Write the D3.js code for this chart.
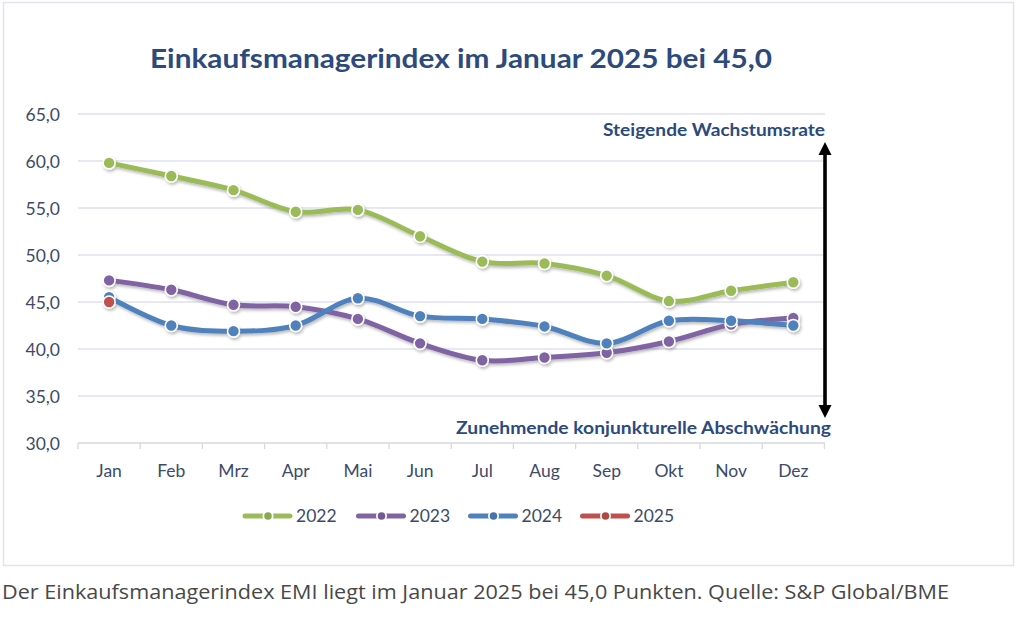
<!DOCTYPE html>
<html>
<head>
<meta charset="utf-8">
<script src="https://cdn.jsdelivr.net/npm/d3@7"></script>
<style>
  html, body { margin: 0; padding: 0; background: #ffffff; }
  svg { display: block; }
</style>
</head>
<body>
<svg id="chart" width="1024" height="621"></svg>
<script>
// ---- data ----
const months = ["Jan","Feb","Mrz","Apr","Mai","Jun","Jul","Aug","Sep","Okt","Nov","Dez"];
const v2022 = [59.8, 58.4, 56.9, 54.6, 54.8, 52.0, 49.3, 49.1, 47.8, 45.1, 46.2, 47.1];
const v2023 = [47.3, 46.3, 44.7, 44.5, 43.2, 40.6, 38.8, 39.1, 39.6, 40.8, 42.6, 43.3];
const v2024 = [45.5, 42.5, 41.9, 42.5, 45.4, 43.5, 43.2, 42.4, 40.6, 43.0, 43.0, 42.5];
const v2025 = [45.0];
const seriesNames = ["2022","2023","2024","2025"];
const seriesColors = ["#9bbb59","#8064a2","#4f81bd","#c0504d"];
const yTicks = [30, 35, 40, 45, 50, 55, 60, 65];
const titleText = "Einkaufsmanagerindex im Januar 2025 bei 45,0";
const upLabel = "Steigende Wachstumsrate";
const downLabel = "Zunehmende konjunkturelle Abschwächung";
const captionText = "Der Einkaufsmanagerindex EMI liegt im Januar 2025 bei 45,0 Punkten. Quelle: S&P Global/BME";

const series = [v2022, v2023, v2024, v2025].map((vals, i) => ({
  name: seriesNames[i], color: seriesColors[i],
  points: vals.map((v, j) => ({ m: months[j], v }))
}));

const svg = d3.select("#chart");
const font = "Lato, 'Open Sans', 'Noto Sans', sans-serif";
const navy = "#2c4a7c";
const tickColor = "#3d4a68";

// shadow filter
const defs = svg.append("defs");
const f = defs.append("filter").attr("id", "shadow").attr("x", "-10%").attr("y", "-10%").attr("width", "120%").attr("height", "130%");
f.append("feDropShadow").attr("dx", 1.2).attr("dy", 2).attr("stdDeviation", 1.4)
  .attr("flood-color", "#000").attr("flood-opacity", 0.28);

// frame
svg.append("rect").attr("x", 3.5).attr("y", 2.5).attr("width", 1010).attr("height", 563)
  .attr("fill", "#ffffff").attr("stroke", "#e1e2ea").attr("stroke-width", 1.5);

// scales
const x = d3.scaleBand().domain(months).range([78, 824.4]).paddingInner(0).paddingOuter(0);
const bw = x.bandwidth();
const cx = m => x(m) + bw / 2;
const y = d3.scaleLinear().domain([30, 65]).range([443, 114]);

// gridlines
svg.append("g").selectAll("line").data(yTicks.filter(t => t > 30)).join("line")
  .attr("x1", 78).attr("x2", 825).attr("y1", d => y(d)).attr("y2", d => y(d))
  .attr("stroke", "#dfe1f1").attr("stroke-width", 1.3);

// x axis baseline + band-boundary ticks
svg.append("line").attr("x1", 78).attr("x2", 825).attr("y1", y(30)).attr("y2", y(30))
  .attr("stroke", "#d9d9dd").attr("stroke-width", 1.3);
svg.append("g").selectAll("line").data(d3.range(months.length + 1)).join("line")
  .attr("x1", i => 78 + i * bw).attr("x2", i => 78 + i * bw)
  .attr("y1", y(30)).attr("y2", y(30) + 6)
  .attr("stroke", "#d9d9dd").attr("stroke-width", 1.3);

// y axis labels
const loc = d3.formatLocale({ decimal: ",", thousands: ".", grouping: [3], currency: ["", " €"] });
const fmt = loc.format(".1f");
const yAxis = d3.axisLeft(y).tickValues(yTicks).tickFormat(fmt).tickSize(0).tickPadding(0);
const gy = svg.append("g").attr("transform", "translate(60,0)").call(yAxis);
gy.select(".domain").remove();
gy.selectAll("text").attr("font-family", font).attr("font-size", 17.5).attr("fill", tickColor).attr("dy", "0.36em");

// x axis labels
const xAxis = d3.axisBottom(x).tickSize(0).tickPadding(0);
const gx = svg.append("g").attr("transform", `translate(0,${y(30)})`).call(xAxis);
gx.select(".domain").remove();
gx.selectAll("text").attr("font-family", font).attr("font-size", 17.5).attr("fill", tickColor)
  .attr("dy", null).attr("y", 34);

// lines
const line = d3.line().x(d => cx(d.m)).y(d => y(d.v)).curve(d3.curveCatmullRom.alpha(0));
const gs = svg.append("g").attr("filter", "url(#shadow)");
series.forEach(s => {
  const g = gs.append("g");
  g.append("path").datum(s.points).attr("d", line).attr("fill", "none")
    .attr("stroke", s.color).attr("stroke-width", 5).attr("stroke-linejoin", "round").attr("stroke-linecap", "round");
  g.selectAll("circle").data(s.points).join("circle")
    .attr("cx", d => cx(d.m)).attr("cy", d => y(d.v)).attr("r", 6)
    .attr("fill", s.color).attr("stroke", "#ffffff").attr("stroke-width", 1.6);
});

// title
svg.append("text").attr("x", 461).attr("y", 68).attr("text-anchor", "middle")
  .attr("font-family", font).attr("font-weight", 700).attr("font-size", 27).attr("fill", navy)
  .attr("textLength", 622).attr("lengthAdjust", "spacingAndGlyphs").text(titleText);

// annotations
svg.append("text").attr("x", 825).attr("y", 136).attr("text-anchor", "end")
  .attr("font-family", font).attr("font-weight", 700).attr("font-size", 16.5).attr("fill", navy)
  .attr("textLength", 222).attr("lengthAdjust", "spacingAndGlyphs").text(upLabel);
svg.append("text").attr("x", 831).attr("y", 434).attr("text-anchor", "end")
  .attr("font-family", font).attr("font-weight", 700).attr("font-size", 16.5).attr("fill", navy)
  .attr("textLength", 375).attr("lengthAdjust", "spacingAndGlyphs").text(downLabel);

// double arrow
const ax = 825, aTop = 142, aBot = 418, ah = 13, aw = 6.5;
svg.append("line").attr("x1", ax).attr("x2", ax).attr("y1", aTop + ah - 1).attr("y2", aBot - ah + 1)
  .attr("stroke", "#000").attr("stroke-width", 3.6);
svg.append("path").attr("d", `M${ax},${aTop} L${ax + aw},${aTop + ah} L${ax - aw},${aTop + ah} Z`).attr("fill", "#000");
svg.append("path").attr("d", `M${ax},${aBot} L${ax + aw},${aBot - ah} L${ax - aw},${aBot - ah} Z`).attr("fill", "#000");

// legend
const legX = [243, 356.5, 468.5, 580.5];
const legY = 516;
const lg = svg.append("g");
series.forEach((s, i) => {
  const g = lg.append("g").attr("transform", `translate(${legX[i]},${legY})`);
  g.append("line").attr("x1", 2).attr("x2", 47).attr("y1", 0).attr("y2", 0)
    .attr("stroke", s.color).attr("stroke-width", 5).attr("stroke-linecap", "round");
  g.append("circle").attr("cx", 25).attr("cy", 0).attr("r", 5.5).attr("fill", "#ffffff");
  g.append("circle").attr("cx", 25).attr("cy", 0).attr("r", 3.8).attr("fill", d3.color(s.color).darker(0.3));
  g.append("text").attr("x", 53).attr("y", 0).attr("dy", "0.36em")
    .attr("font-family", font).attr("font-size", 17.5).attr("fill", tickColor).text(s.name);
});

// caption
svg.append("text").attr("x", 2).attr("y", 599)
  .attr("font-family", "'Open Sans', 'Noto Sans', sans-serif").attr("font-size", 20).attr("fill", "#484848")
  .attr("textLength", 947).attr("lengthAdjust", "spacingAndGlyphs").text(captionText);
</script>
</body>
</html>
